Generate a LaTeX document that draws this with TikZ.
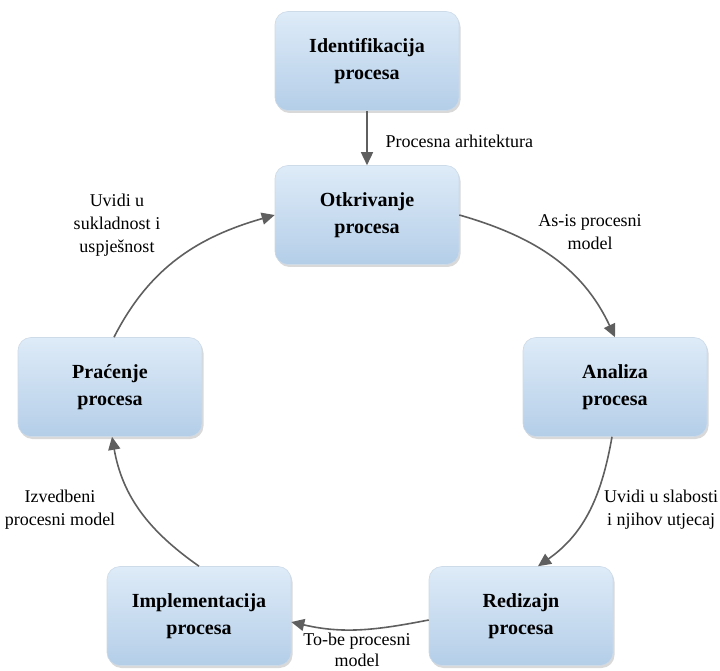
\documentclass[tikz,border=0pt]{standalone}
\usepackage{fontspec}
\setmainfont{LiberationSerif}[Extension=.ttf, UprightFont=*-Regular, BoldFont=*-Bold, ItalicFont=*-Italic, BoldItalicFont=*-BoldItalic]
\usetikzlibrary{arrows.meta,shadows,positioning}

\definecolor{boxtop}{RGB}{222,235,248}
\definecolor{boxmid}{RGB}{192,215,237}
\definecolor{boxbot}{RGB}{180,206,232}
\definecolor{boxline}{RGB}{205,218,232}
\definecolor{arrowgray}{RGB}{95,95,95}

\tikzset{
  stepbox/.style={draw=boxline, line width=0.6pt, rounded corners=13pt,
    top color=boxtop, middle color=boxmid, bottom color=boxbot,
    minimum width=184pt, minimum height=99pt, align=center,
    font=\fontsize{20}{27}\selectfont\bfseries,
    drop shadow={shadow xshift=1.5pt, shadow yshift=-2.5pt, opacity=0.3}},
  flow/.style={draw=arrowgray, line width=1.6pt, -{Triangle[length=13pt,width=12pt]}},
  lbl/.style={align=center, font=\fontsize{18}{23}\selectfont}
}

\begin{document}
\begin{tikzpicture}[x=1pt,y=1pt]
  \useasboundingbox (0,0) rectangle (720,670);
  % process steps
  \node[stepbox] (ident) at (367,609) {Identifikacija\\procesa};
  \node[stepbox] (otkr) at (367,455) {Otkrivanje\\procesa};
  \node[stepbox] (anal) at (615,283) {Analiza\\procesa};
  \node[stepbox] (rediz) at (521,54) {Redizajn\\procesa};
  \node[stepbox] (impl) at (199,54) {Implementacija\\procesa};
  \node[stepbox] (prac) at (110,283) {Praćenje\\procesa};
  % cycle
  \draw[flow] (ident) -- (otkr);
  \draw[flow] (otkr.east) to[out=-16,in=115] (anal.north);
  \draw[flow] ([xshift=-3pt]anal.south) to[out=-100,in=35] ([xshift=17pt]rediz.north);
  \draw[flow] ([yshift=-4pt]rediz.west) to[out=191,in=-13] ([yshift=-6pt]impl.east);
  \draw[flow] (impl.north) to[out=145,in=280] ([xshift=2pt]prac.south);
  \draw[flow] ([xshift=4pt]prac.north) to[out=63,in=196] (otkr.west);
  % labels
  \node[lbl, anchor=west] (arh) at (382,529) {Procesna arhitektura};
  \node[lbl] (asis) at (590,438) {As-is procesni\\model};
  \node[lbl] (slab) at (661,160) {Uvidi u slabosti\\i njihov utjecaj};
  \node[lbl, font=\fontsize{18}{21}\selectfont] (tobe) at (357,20) {To-be procesni\\model};
  \node[lbl] (izv) at (60,160) {Izvedbeni\\procesni model};
  \node[lbl] (sukl) at (117,445) {Uvidi u\\sukladnost i\\uspješnost};
\end{tikzpicture}
\end{document}
